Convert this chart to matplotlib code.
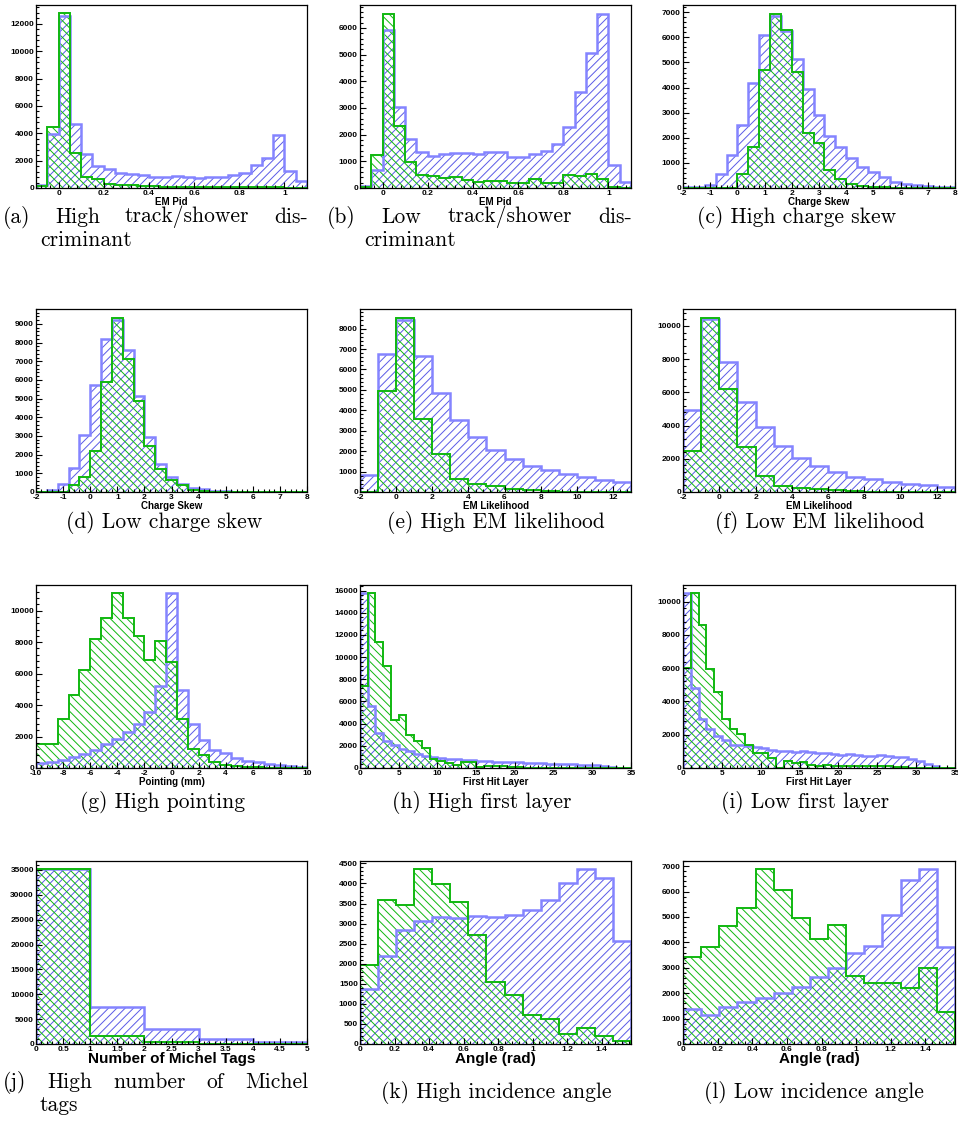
import numpy as np
import matplotlib
matplotlib.use('Agg')
import matplotlib.pyplot as plt
from matplotlib.ticker import MultipleLocator, AutoMinorLocator, FormatStrFormatter

# ---- histogram contents (blue = first sample, green = second) ----
a_blue = [240, 3950, 12600, 4650, 2470, 1620, 1380, 1090, 1040, 970, 800, 800,
          850, 800, 730, 800, 820, 920, 1090, 1670, 2180, 3850, 1210, 530]
a_green = [150, 4440, 12780, 2550, 775, 650, 290, 240, 190, 170, 120, 100,
           80, 80, 70, 70, 60, 60, 60, 60, 50, 40, 20, 10]

b_blue = [90, 660, 5925, 3045, 1826, 1366, 1205, 1267, 1304, 1304, 1280, 1366,
          1354, 1180, 1155, 1267, 1404, 1652, 2298, 3600, 5068, 6522, 870, 224]
b_green = [50, 1240, 6520, 2335, 980, 500, 460, 373, 410, 310, 236, 248,
           248, 186, 186, 323, 174, 186, 472, 460, 522, 323, 20, 10]

c_blue = [20, 30, 130, 555, 1295, 2510, 4200, 6076, 6850, 6250, 5140, 3925, 2893,
          2087, 1625, 1176, 845, 647, 423, 250, 170, 120, 90, 50, 30]
c_green = [0, 0, 0, 0, 0, 555, 1640, 4716, 6935, 6275, 4610, 2180, 1810,
           700, 370, 160, 90, 40, 20, 10, 5, 0, 0, 0, 0]

d_blue = [0, 90, 445, 1265, 3030, 5740, 8200, 9200, 7594, 5116, 2923, 1515, 802,
          428, 232, 143, 71, 30, 10, 0, 0, 0, 0, 0, 0]
d_green = [0, 0, 0, 374, 820, 2210, 5880, 9340, 7112, 4866, 2460, 1248, 642,
           374, 107, 40, 15, 5, 0, 0, 0, 0, 0, 0, 0]

e_blue = [847, 6743, 8400, 6645, 4837, 3518, 2671, 2036, 1629, 1254, 1075, 880, 733, 586, 489]
e_green = [0, 4951, 8534, 3567, 1840, 635, 391, 277, 147, 81, 40, 20, 10, 5, 0]

f_blue = [4930, 10400, 7855, 5430, 3928, 2785, 2024, 1543, 1202, 922, 782, 621, 481, 400, 300]
f_green = [2465, 10500, 6232, 2705, 962, 360, 240, 160, 100, 60, 30, 20, 10, 5, 0]

g_blue = [317, 402, 528, 698, 888, 1163, 1500, 1839, 2283, 2812, 3530, 5180, 11099,
          4926, 2812, 1755, 1163, 951, 634, 423, 359, 254, 211, 106, 63]
g_green = [1543, 1543, 3108, 4651, 6237, 8182, 9514, 11099, 9514, 8393, 6871, 8076, 6723,
           3108, 1226, 846, 402, 211, 148, 85, 40, 30, 20, 10, 5]

h_blue = [15760, 5550, 3150, 2460, 2040, 1740, 1500, 1290, 1110, 990, 930, 840, 780, 750,
          690, 630, 600, 570, 540, 510, 510, 480, 450, 450, 390, 360, 360, 330, 300, 300,
          240, 180, 90, 30, 0]
h_green = [7400, 15760, 11350, 9220, 4350, 4770, 3000, 2460, 1800, 810, 660, 450, 300, 510,
           510, 90, 180, 150, 210, 60, 50, 40, 40, 30, 30, 30, 20, 20, 20, 10,
           10, 10, 0, 0, 0]

i_blue = [10500, 4800, 2960, 2340, 1900, 1660, 1400, 1360, 1340, 1240, 1180, 1100, 1040, 1000,
          980, 1000, 940, 920, 880, 840, 800, 840, 800, 740, 720, 780, 700, 660, 640, 540,
          440, 240, 100, 20, 0]
i_green = [6000, 10500, 8600, 5960, 4540, 2940, 2360, 2040, 1400, 920, 900, 600, 0, 420,
           300, 360, 200, 150, 200, 150, 120, 100, 100, 140, 100, 140, 100, 60, 40, 20,
           10, 0, 0, 0, 0]

j_blue = [35200, 7510, 2950, 940, 470]
j_green = [35200, 1680, 335, 60, 30]

k_blue = [1375, 2183, 2850, 3067, 3167, 3142, 3192, 3167, 3208, 3333, 3583, 4000, 4358, 4125, 2575]
k_green = [1975, 3600, 3475, 4358, 3983, 3533, 2708, 1533, 1225, 725, 625, 250, 400, 208, 67]

l_blue = [1363, 1127, 1442, 1664, 1822, 2018, 2254, 2621, 2975, 3591, 3866, 5085, 6448, 6868, 3827]
l_green = [3434, 3814, 4640, 5347, 6868, 6042, 4954, 4128, 4692, 2674, 2412, 2412, 2215, 2988, 1258]

xlabels = ['EM Pid', 'EM Pid', 'Charge Skew', 'Charge Skew', 'EM Likelihood', 'EM Likelihood',
           'Pointing (mm)', 'First Hit Layer', 'First Hit Layer', 'Number of Michel Tags',
           'Angle (rad)', 'Angle (rad)']

captions = ['(a) High track/shower dis-', '(b) Low track/shower dis-', '(c) High charge skew',
            '(d) Low charge skew', '(e) High EM likelihood', '(f) Low EM likelihood',
            '(g) High pointing', '(h) High first layer', '(i) Low first layer',
            '(j) High number of Michel', '(k) High incidence angle', '(l) Low incidence angle']

W, H = 958, 1133
BLUE_LINE = '#8484ff'
BLUE_HATCH = '#5a5ae6'
GREEN = '#10b810'

plt.rcParams['hatch.linewidth'] = 0.7
plt.rcParams['font.family'] = 'Liberation Sans'

fig = plt.figure(figsize=(W / 100, H / 100), dpi=100)

# data, x range, x tick step, y max, y tick step
specs = [
    (a_blue, a_green, (-0.1, 1.1), 0.2, 13380, 2000),
    (b_blue, b_green, (-0.1, 1.1), 0.2, 6860, 1000),
    (c_blue, c_green, (-2, 8), 1, 7290, 1000),
    (d_blue, d_green, (-2, 8), 1, 9800, 1000),
    (e_blue, e_green, (-2, 13), 2, 8960, 1000),
    (f_blue, f_green, (-2, 13), 2, 11020, 2000),
    (g_blue, g_green, (-10, 10), 2, 11630, 2000),
    (h_blue, h_green, (0, 35), 5, 16500, 2000),
    (i_blue, i_green, (0, 35), 5, 11000, 2000),
    (j_blue, j_green, (0, 5), 0.5, 36800, 5000),
    (k_blue, k_green, (0, np.pi / 2), 0.2, 4560, 500),
    (l_blue, l_green, (0, np.pi / 2), 0.2, 7200, 1000),
]

col_left = [36, 360, 683]
col_width = [271, 271, 272]
row_top = [5, 309, 585, 861]
ax_h = 183

for n, (blue, green, rng, xstep, ymax, ystep) in enumerate(specs):
    r, c = divmod(n, 3)
    ax = fig.add_axes([col_left[c] / W, 1 - (row_top[r] + ax_h) / H, col_width[c] / W, ax_h / H])
    edges = np.linspace(rng[0], rng[1], len(blue) + 1)

    # hatched fills first, outlines on top
    ax.stairs(blue, edges, fill=True, facecolor='none', edgecolor=BLUE_HATCH,
              hatch='////', linewidth=0)
    ax.stairs(green, edges, fill=True, facecolor='none', edgecolor=GREEN,
              hatch='\\\\\\\\', linewidth=0)
    ax.stairs(blue, edges, color=BLUE_LINE, linewidth=1.8)
    ax.stairs(green, edges, color=GREEN, linewidth=1.4)

    ax.set_xlim(rng)
    ax.set_ylim(0, ymax)
    ax.xaxis.set_major_locator(MultipleLocator(xstep))
    ax.yaxis.set_major_locator(MultipleLocator(ystep))
    ax.xaxis.set_minor_locator(AutoMinorLocator(5))
    ax.yaxis.set_minor_locator(AutoMinorLocator(5))
    ax.xaxis.set_major_formatter(FormatStrFormatter('%g'))
    ax.yaxis.set_major_formatter(FormatStrFormatter('%g'))
    ax.tick_params(which='both', direction='in', top=False, right=False,
                   labelsize=6, pad=1.5, width=0.8)
    ax.tick_params(which='major', length=4)
    ax.tick_params(which='minor', length=2)
    for lab in ax.get_xticklabels() + ax.get_yticklabels():
        lab.set_fontweight('bold')
    for sp in ax.spines.values():
        sp.set_linewidth(0.9)

    # ROOT-style axis title just under the tick labels
    if r < 3:
        ax.set_xlabel(xlabels[n], fontsize=7, fontweight='bold')
        ax.xaxis.set_label_coords(0.5, -9 / ax_h)
    else:
        ax.set_xlabel(xlabels[n], fontsize=11, fontweight='bold')
        ax.xaxis.set_label_coords(0.5, -8.5 / ax_h)

# ---- sub-captions (LaTeX look) ----
cap_font = dict(family='cmr10', fontsize=15.5)


def justified(text, x0, x1, y):
    words = text.split()
    tl = [fig.text(0, 1 - y / H, w, va='center', ha='left', **cap_font) for w in words]
    renderer = fig.canvas.get_renderer()
    widths = [t.get_window_extent(renderer).width for t in tl]
    gap = (x1 - x0 - sum(widths)) / (len(words) - 1)
    x = x0
    for t, w in zip(tl, widths):
        t.set_x(x / W)
        x += w + gap


cap_rows = [[217, 217, 217], [523, 523, 523], [802, 802, 802], [1082, 1093, 1093]]
cap_centers = [[None, None, 797], [164, 496, 820], [163, 482, 805], [None, 496, 814]]

for n, cap in enumerate(captions):
    r, c = divmod(n, 3)
    y = cap_rows[r][c]
    xc = cap_centers[r][c]
    if xc is None:
        x0 = 3 + col_left[c] - 36
        justified(cap, x0, x0 + 305, y)
    else:
        fig.text(xc / W, 1 - y / H, cap, ha='center', va='center', **cap_font)

fig.text(40 / W, 1 - 240 / H, 'criminant', va='center', ha='left', **cap_font)
fig.text(364 / W, 1 - 240 / H, 'criminant', va='center', ha='left', **cap_font)
fig.text(40 / W, 1 - 1105 / H, 'tags', va='center', ha='left', **cap_font)

fig.savefig('out.png', dpi=100)
